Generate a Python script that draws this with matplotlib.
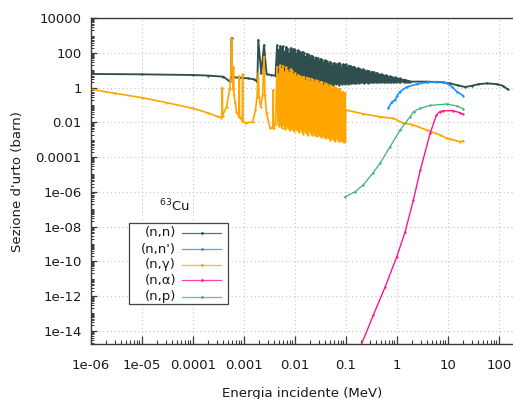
import numpy as np
import matplotlib
matplotlib.use("Agg")
import matplotlib.pyplot as plt
from matplotlib.ticker import FixedLocator, FixedFormatter, LogLocator, NullFormatter
from matplotlib.patches import Rectangle
from matplotlib.lines import Line2D

plt.rcParams['font.family'] = ['DejaVu Sans']
plt.rcParams['mathtext.default'] = 'regular'

# ---------------- cross sections: energy in MeV (keV for resonances), sigma in barn ----------------
# (n,n) elastic: smooth thermal part with the first isolated resonances
nn_low_mev = [1e-6, 1e-5, 1e-4, 2e-4, 4e-4, 5.3e-4, 5.72e-4, 5.8e-4, 5.88e-4, 6.1e-4,
              8e-4, 1.2e-3, 1.6e-3, 1.85e-3, 1.93e-3, 2.2e-3, 2.5e-3, 2.8e-3, 3.4e-3, 4.2e-3]
nn_low_barn = [6.2, 5.9, 5.4, 5.0, 4.3, 2.3, 4.0, 720, 4.0, 4.0,
               3.8, 3.5, 3.0, 2.2, 560, 6.8, 290, 6.0, 5.5, 4.8]

# resolved resonances (keV): peak positions and the valley after each peak
res_peak_kev = [4.5, 4.8, 5.2, 5.5, 5.9, 6.3, 6.8, 7.2, 7.8, 8.3, 8.9, 9.5,
                10.2, 10.9, 11.6, 12.5, 13.3, 14.2, 15.3, 16.3, 17.5, 18.7, 20.0, 21.4,
                23.0, 24.6, 26.3, 28.1, 30.1, 32.2, 34.5, 36.9, 39.5, 42.3, 45.2, 48.4,
                51.8, 55.4, 59.3, 63.4, 67.9, 72.6, 77.7, 83.1, 88.9, 95.2,
                102, 109, 117, 125, 134, 143, 154, 165, 176, 189, 202, 217, 232, 249,
                266, 285, 306, 328, 351, 376, 403, 432, 463, 496, 532, 570, 611, 655,
                702, 752, 806, 864, 926, 992, 1063, 1140, 1221, 1309, 1403, 1504, 1612, 1728]
res_valley_kev = [4.65, 5.0, 5.35, 5.7, 6.1, 6.55, 7.0, 7.5, 8.05, 8.6, 9.2, 9.8,
                  10.55, 11.25, 12.05, 12.9, 13.75, 14.75, 15.8, 16.9, 18.1, 19.35, 20.7, 22.2,
                  23.8, 25.45, 27.2, 29.1, 31.15, 33.35, 35.7, 38.2, 40.9, 43.75, 46.8, 50.1,
                  53.6, 57.35, 61.35, 65.65, 70.25, 75.15, 80.4, 86.0, 92.0, 98.4,
                  105.5, 113, 121, 129.5, 138.5, 148.5, 159.5, 170.5, 182.5, 195.5, 209.5, 224.5, 240.5, 257.5,
                  275.5, 295.5, 317, 339.5, 363.5, 389.5, 417.5, 447.5, 479.5, 514, 551, 590.5, 633, 678.5,
                  727, 779, 835, 895, 959, 1027, 1101, 1180, 1265, 1356, 1453, 1558, 1670, 1850]

nn_peak_barn = [280, 150, 250, 200, 240, 120, 220, 180, 90, 190, 150, 170,
                150, 95, 140, 120, 70, 115, 100, 60, 90, 80, 50, 70,
                62, 40, 55, 50, 33, 45, 40, 28, 37, 33, 23, 30,
                28, 19, 26, 24, 18, 26, 24, 16, 22, 20,
                22, 15, 19, 17, 13, 16, 14, 11, 13.5, 12, 9.5, 11.5, 10.5, 8,
                9.8, 9, 7, 8.3, 7.6, 6, 7, 6.5, 5.2, 6, 5.6, 4.6, 5.2, 4.9,
                4.0, 4.5, 4.2, 3.6, 3.9, 3.6, 3.2, 3.4, 3.1, 2.8, 2.9, 2.7, 2.5, 2.4]
nn_valley_barn = [2.5, 1.3, 0.6, 1.5, 1.0, 0.4, 1.3, 1.1, 1.5, 0.9, 1.4, 1.2,
                  1.3, 0.9, 1.5, 1.2, 1.6, 0.7, 1.4, 1.5, 1.1, 1.6, 1.3, 1.5,
                  1.6, 1.2, 1.6, 1.4, 1.7, 1.3, 1.6, 1.7, 1.1, 1.7, 1.5, 1.8,
                  1.6, 1.4, 1.8, 1.7, 1.8, 1.5, 1.8, 1.7, 1.9, 1.7,
                  1.8, 1.7, 1.9, 1.75, 1.95, 1.8, 1.95, 2.0, 1.85, 2.0, 2.05, 1.9, 2.05, 2.1,
                  1.95, 2.1, 2.1, 2.0, 2.15, 2.15, 2.05, 2.2, 2.15, 2.1, 2.2, 2.2, 2.15, 2.24,
                  2.2, 2.2, 2.24, 2.24, 2.2, 2.3, 2.24, 2.24, 2.3, 2.24, 2.24, 2.24, 2.24, 2.24]
nn_high_mev = [3.9, 8.1, 11, 16, 22, 30, 40, 58, 91, 120, 150]
nn_high_barn = [2.24, 2.04, 1.78, 1.35, 1.1, 1.3, 1.6, 1.78, 1.6, 1.3, 0.8]

# (n,n') inelastic
nnp_mev = [0.68, 0.80, 0.93, 1.0, 1.16, 1.57, 2.47, 3.9, 6.0, 8.0, 9.6, 12, 15, 20]
nnp_barn = [0.065, 0.15, 0.2, 0.32, 0.6, 1.1, 1.6, 2.04, 2.24, 2.1, 1.78, 1.15, 0.6, 0.35]

# (n,gamma) capture
ng_low_mev = [1e-6, 3e-6, 1e-5, 3e-5, 1e-4, 2e-4, 3e-4, 3.6e-4,
              3.75e-4, 3.8e-4, 3.85e-4, 4.6e-4, 5.3e-4, 5.65e-4, 5.8e-4, 5.95e-4,
              6.2e-4, 6.3e-4, 6.4e-4, 6.8e-4, 7.2e-4, 8.1e-4, 8.2e-4, 8.3e-4,
              9.4e-4, 9.5e-4, 9.6e-4, 1.1e-3, 1.5e-3, 1.7e-3, 1.82e-3, 1.93e-3,
              2.0e-3, 2.15e-3, 2.35e-3, 2.5e-3, 2.6e-3, 2.8e-3, 3.3e-3, 3.75e-3,
              3.8e-3, 3.85e-3, 4.2e-3]
ng_low_barn = [0.82, 0.47, 0.27, 0.14, 0.065, 0.035, 0.022, 0.019,
               0.025, 1.0, 0.025, 0.08, 0.8, 10, 650, 10,
               0.8, 16, 0.4, 0.15, 0.042, 0.02, 4.7, 0.02,
               0.012, 6, 0.012, 0.009, 0.011, 0.05, 0.3, 7,
               0.3, 0.08, 0.4, 60, 0.4, 0.033, 0.0046, 0.005,
               0.75, 0.005, 0.008]
ng_peak_barn = [16, 6, 20, 12, 18, 8, 15, 10, 7, 12, 9, 6,
                7, 4.5, 5.5, 4.5, 3, 4.4, 4, 2.6, 3.8, 3.4, 2.2, 3.2,
                2.9, 1.9, 2.7, 2.4, 1.6, 2.2, 2.0, 1.3, 1.8, 1.6, 1.1, 1.4,
                1.3, 0.85, 1.1, 1.0, 0.7, 0.85, 0.8, 0.55, 0.6, 0.5]
ng_valley_barn = [0.01, 0.006, 0.008, 0.005, 0.007, 0.004, 0.006, 0.005, 0.0035, 0.005, 0.004, 0.003,
                  0.0045, 0.0035, 0.0028, 0.004, 0.003, 0.0022, 0.0034, 0.0026, 0.002, 0.003, 0.0024, 0.0018,
                  0.0026, 0.002, 0.0016, 0.0022, 0.0018, 0.0014, 0.002, 0.0015, 0.0012, 0.0017, 0.0013, 0.001,
                  0.0014, 0.0011, 0.0009, 0.0012, 0.00095, 0.0008, 0.001, 0.0008, 0.0007, 0.0008]
ng_high_mev = [0.1, 0.22, 0.47, 0.86, 1.35, 2.0, 3.9, 7.1, 9.5, 11, 17, 20]
ng_high_barn = [0.052, 0.031, 0.021, 0.017, 0.009, 0.0075, 0.0036, 0.0019, 0.0012, 0.0011, 0.00078, 0.00085]

# (n,alpha)
na_mev = [0.19, 0.348, 0.59, 1.0, 1.46, 2.12, 2.9, 4.5, 6.0, 7.0, 8.1, 12.9, 17.4, 20]
na_barn = [1e-15, 8e-14, 3.2e-12, 1.8e-10, 5e-9, 3.4e-7, 1.8e-5, 2.3e-3, 0.027, 0.042, 0.047, 0.047, 0.036, 0.030]

# (n,p)
np_mev = [0.097, 0.152, 0.22, 0.34, 0.47, 0.74, 1.16, 1.82, 2.14, 2.9, 4.5, 9.5, 15, 20]
np_barn = [5.2e-7, 1.0e-6, 2.5e-6, 1.2e-5, 4.4e-5, 4.0e-4, 3.6e-3, 0.021, 0.042, 0.065, 0.095, 0.115, 0.089, 0.062]

labels = ["(n,n)", "(n,n')", "(n,\u03b3)", "(n,\u03b1)", "(n,p)"]
colors = ["#2f4f4f", "#1e90ff", "#ffa500", "#ff1493", "#3cb371"]
widths = [1.35, 1.2, 1.2, 1.0, 0.9]
nuclide = r"$^{63}$Cu"

x_ticks = [1e-6, 1e-5, 1e-4, 1e-3, 1e-2, 1e-1, 1, 10, 100]
x_tick_labels = ["1e-06", "1e-05", "0.0001", "0.001", "0.01", "0.1", "1", "10", "100"]
y_ticks = [1e4, 1e2, 1, 1e-2, 1e-4, 1e-6, 1e-8, 1e-10, 1e-12, 1e-14]
y_tick_labels = ["10000", "100", "1", "0.01", "0.0001", "1e-06", "1e-08", "1e-10", "1e-12", "1e-14"]


def resonance_series(low_e, low_s, pk_kev, pk_s, va_kev, va_s, hi_e, hi_s):
    """Join the smooth parts with the peak/valley sequence of the resonances."""
    n = len(pk_s)
    mid_e = np.column_stack([pk_kev[:n], va_kev[:n]]).ravel() / 1000.0
    mid_s = np.column_stack([pk_s, va_s]).ravel()
    return (np.concatenate([low_e, mid_e, hi_e]),
            np.concatenate([low_s, mid_s, hi_s]))


nn_e, nn_s = resonance_series(nn_low_mev, nn_low_barn, np.array(res_peak_kev), nn_peak_barn,
                              np.array(res_valley_kev), nn_valley_barn, nn_high_mev, nn_high_barn)
ng_e, ng_s = resonance_series(ng_low_mev, ng_low_barn, np.array(res_peak_kev), ng_peak_barn,
                              np.array(res_valley_kev), ng_valley_barn, ng_high_mev, ng_high_barn)

series = [(nn_e, nn_s), (np.array(nnp_mev), np.array(nnp_barn)), (ng_e, ng_s),
          (np.array(na_mev), np.array(na_barn)), (np.array(np_mev), np.array(np_barn))]

# ---------------- figure ----------------
W, H = 513, 399
fig = plt.figure(figsize=(W / 100, H / 100), dpi=100)
left, right, top, bottom = 90.7, 513.0, 18.3, 344.3
ax = fig.add_axes([left / W, 1 - bottom / H, (right - left) / W, (bottom - top) / H])
ax.set_xscale('log')
ax.set_yscale('log')
ax.set_xlim(1e-6, 190)
ax.set_ylim(1.63e-15, 1e4)

for (e, s), c, lw in zip(series, colors, widths):
    ax.plot(e, s, color=c, lw=lw, marker='o', ms=1.7, mew=0)

ax.xaxis.set_major_locator(FixedLocator(x_ticks))
ax.xaxis.set_major_formatter(FixedFormatter(x_tick_labels))
ax.xaxis.set_minor_locator(LogLocator(base=10, subs=np.arange(2, 10), numticks=100))
ax.xaxis.set_minor_formatter(NullFormatter())
ax.yaxis.set_major_locator(FixedLocator(y_ticks))
ax.yaxis.set_major_formatter(FixedFormatter(y_tick_labels))
ax.yaxis.set_minor_locator(LogLocator(base=10, subs=np.arange(1, 10), numticks=100))
ax.yaxis.set_minor_formatter(NullFormatter())

spine_c = "#3a3a3a"
ax.tick_params(which='both', direction='in', top=False, right=False, color=spine_c,
               labelsize=9.5, labelcolor='#1a1a1a')
ax.tick_params(axis='x', which='major', length=5.5, width=0.9, pad=10.5)
ax.tick_params(axis='x', which='minor', length=2.7, width=0.8)
ax.tick_params(axis='y', which='major', length=4.5, width=0.9, pad=6.5)
ax.tick_params(axis='y', which='minor', length=2.0, width=0.7)
for side in ('left', 'bottom', 'top'):
    ax.spines[side].set_color(spine_c)
    ax.spines[side].set_linewidth(1.0)
ax.spines['right'].set_visible(False)

ax.set_axisbelow(True)
ax.grid(True, which='major', color='#c4c4c4', linestyle=(0, (1, 2.5)), lw=0.8)

fig.text(17.5 / W, 1 - 181.5 / H, "Sezione d'urto (barn)", rotation=90,
         ha='center', va='center', fontsize=9.5, color='#1a1a1a')
fig.text(302 / W, 1 - 396.5 / H, "Energia incidente (MeV)", ha='center', va='baseline',
         fontsize=9.5, color='#1a1a1a')

# nuclide name above the key
fig.text(174 / W, 1 - 206 / H, nuclide, ha='center', va='center', fontsize=9.5, color='#1a1a1a')


def axfrac(px, py):
    return (px - left) / (right - left), (bottom - py) / (bottom - top)


bx0, by0 = axfrac(129.3, 304.3)
bx1, by1 = axfrac(228.3, 223.3)
ax.add_patch(Rectangle((bx0, by0), bx1 - bx0, by1 - by0, transform=ax.transAxes,
                       facecolor='white', edgecolor='#444444', lw=0.9, zorder=5))
row_py = [232.7, 249.0, 264.7, 280.3, 296.7]
for lab, c, py in zip(labels, colors, row_py):
    tx, ty = axfrac(176.0, py)
    ax.text(tx, ty, lab, transform=ax.transAxes, ha='right', va='center',
            fontsize=9.5, color='#1a1a1a', zorder=6)
    lx0, _ = axfrac(181.7, py)
    lx1, _ = axfrac(220.7, py)
    mx, _ = axfrac(202.3, py)
    ax.add_line(Line2D([lx0, lx1], [ty, ty], transform=ax.transAxes, color=c,
                       lw=0.9, alpha=0.8, zorder=6))
    ax.add_line(Line2D([mx], [ty], transform=ax.transAxes, color=c, marker='o',
                       ms=2.0, mew=0, zorder=7))

fig.savefig("out.png", dpi=100, facecolor='white')
